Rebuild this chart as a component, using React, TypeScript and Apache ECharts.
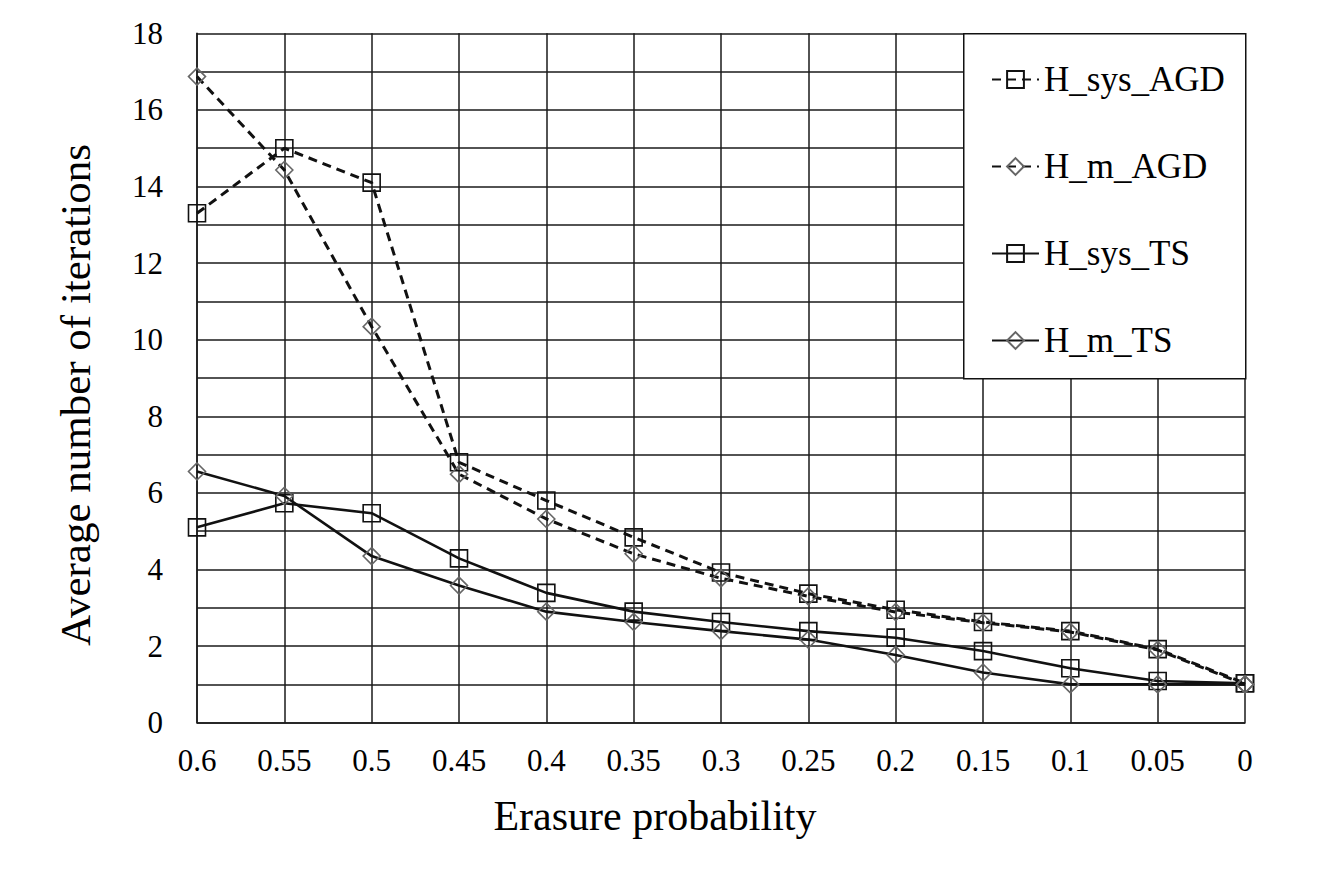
import React, { useEffect, useRef } from "react";
import * as echarts from "echarts";

const categories = ["0.6", "0.55", "0.5", "0.45", "0.4", "0.35", "0.3", "0.25", "0.2", "0.15", "0.1", "0.05", "0"];
const hSysAGD = [13.3, 15.0, 14.1, 6.8, 5.8, 4.84, 3.92, 3.37, 2.95, 2.63, 2.39, 1.92, 1.03];
const hMAGD = [16.87, 14.43, 10.34, 6.49, 5.32, 4.41, 3.77, 3.3, 2.89, 2.61, 2.37, 1.9, 1.0];
const hSysTS = [5.1, 5.73, 5.47, 4.29, 3.39, 2.9, 2.63, 2.39, 2.22, 1.87, 1.42, 1.09, 1.03];
const hMTS = [6.56, 5.92, 4.35, 3.58, 2.9, 2.63, 2.39, 2.17, 1.77, 1.31, 1.0, 1.0, 1.0];
const seriesNames = ["H_sys_AGD", "H_m_AGD", "H_sys_TS", "H_m_TS"];

const FONT = "Liberation Serif, serif";

export default function App() {
  const ref = useRef<HTMLDivElement>(null);
  useEffect(() => {
    if (!ref.current) return;
    const chart = echarts.init(ref.current, undefined, { renderer: "svg" });
    const gridColor = "#1a1a1a";
    const mk = (name: string, data: number[], dashed: boolean, square: boolean) => ({
      name,
      type: "line",
      data,
      symbol: square ? "rect" : "diamond",
      symbolSize: 17,
      lineStyle: { color: "#111", width: dashed ? 3 : 2.6, type: dashed ? [9, 6] : "solid" },
      itemStyle: { color: "rgba(0,0,0,0)", borderColor: square ? "#111" : "#666", borderWidth: 1.6 },
      emphasis: { disabled: true },
      z: square ? 3 : 4,
    });
    chart.setOption({
      animation: false,
      backgroundColor: "#fff",
      textStyle: { fontFamily: FONT },
      grid: { left: 197, top: 33.3, right: 88, bottom: 146.3, containLabel: false },
      legend: {
        orient: "vertical",
        left: 986,
        top: 57,
        itemGap: 52,
        itemWidth: 47,
        itemHeight: 21,
        z: 20,
        data: seriesNames,
        textStyle: { fontFamily: FONT, fontSize: 35, color: "#000" },
      },
      graphic: {
        elements: [
          {
            type: "rect",
            left: 963,
            top: 33,
            z: 10,
            shape: { width: 282, height: 345 },
            style: { fill: "#fff", stroke: "#111", lineWidth: 1.5 },
          },
        ],
      },
      xAxis: {
        type: "category",
        data: categories,
        boundaryGap: false,
        name: "Erasure probability",
        nameLocation: "middle",
        nameGap: 72,
        nameTextStyle: { fontFamily: FONT, fontSize: 42, color: "#000", padding: [0, 132, 0, 0] },
        axisLine: { lineStyle: { color: gridColor, width: 1.5 } },
        axisTick: { show: false },
        axisLabel: { fontFamily: FONT, fontSize: 31, color: "#000", margin: 22, interval: 0 },
        splitLine: { show: true, interval: 0, lineStyle: { color: gridColor, width: 1.5 } },
      },
      yAxis: {
        type: "value",
        min: 0,
        max: 18,
        interval: 2,
        name: "Average number of iterations",
        nameLocation: "middle",
        nameGap: 100,
        nameTextStyle: { fontFamily: FONT, fontSize: 43, color: "#000", padding: [0, 34, 0, 0] },
        axisLine: { show: true, lineStyle: { color: gridColor, width: 1.5 } },
        axisTick: { show: false },
        axisLabel: { fontFamily: FONT, fontSize: 31, color: "#000", margin: 34 },
        splitLine: { show: true, lineStyle: { color: gridColor, width: 1.5 } },
        minorTick: { show: false, splitNumber: 2 },
        minorSplitLine: { show: true, lineStyle: { color: gridColor, width: 1.5 } },
      },
      series: [
        mk("H_sys_AGD", hSysAGD, true, true),
        mk("H_m_AGD", hMAGD, true, false),
        mk("H_sys_TS", hSysTS, false, true),
        mk("H_m_TS", hMTS, false, false),
      ],
    });
    return () => chart.dispose();
  }, []);
  return (
    <div
      ref={ref}
      style={{ position: "absolute", left: 0, top: 0, width: 1333, height: 869 }}
    />
  );
}
